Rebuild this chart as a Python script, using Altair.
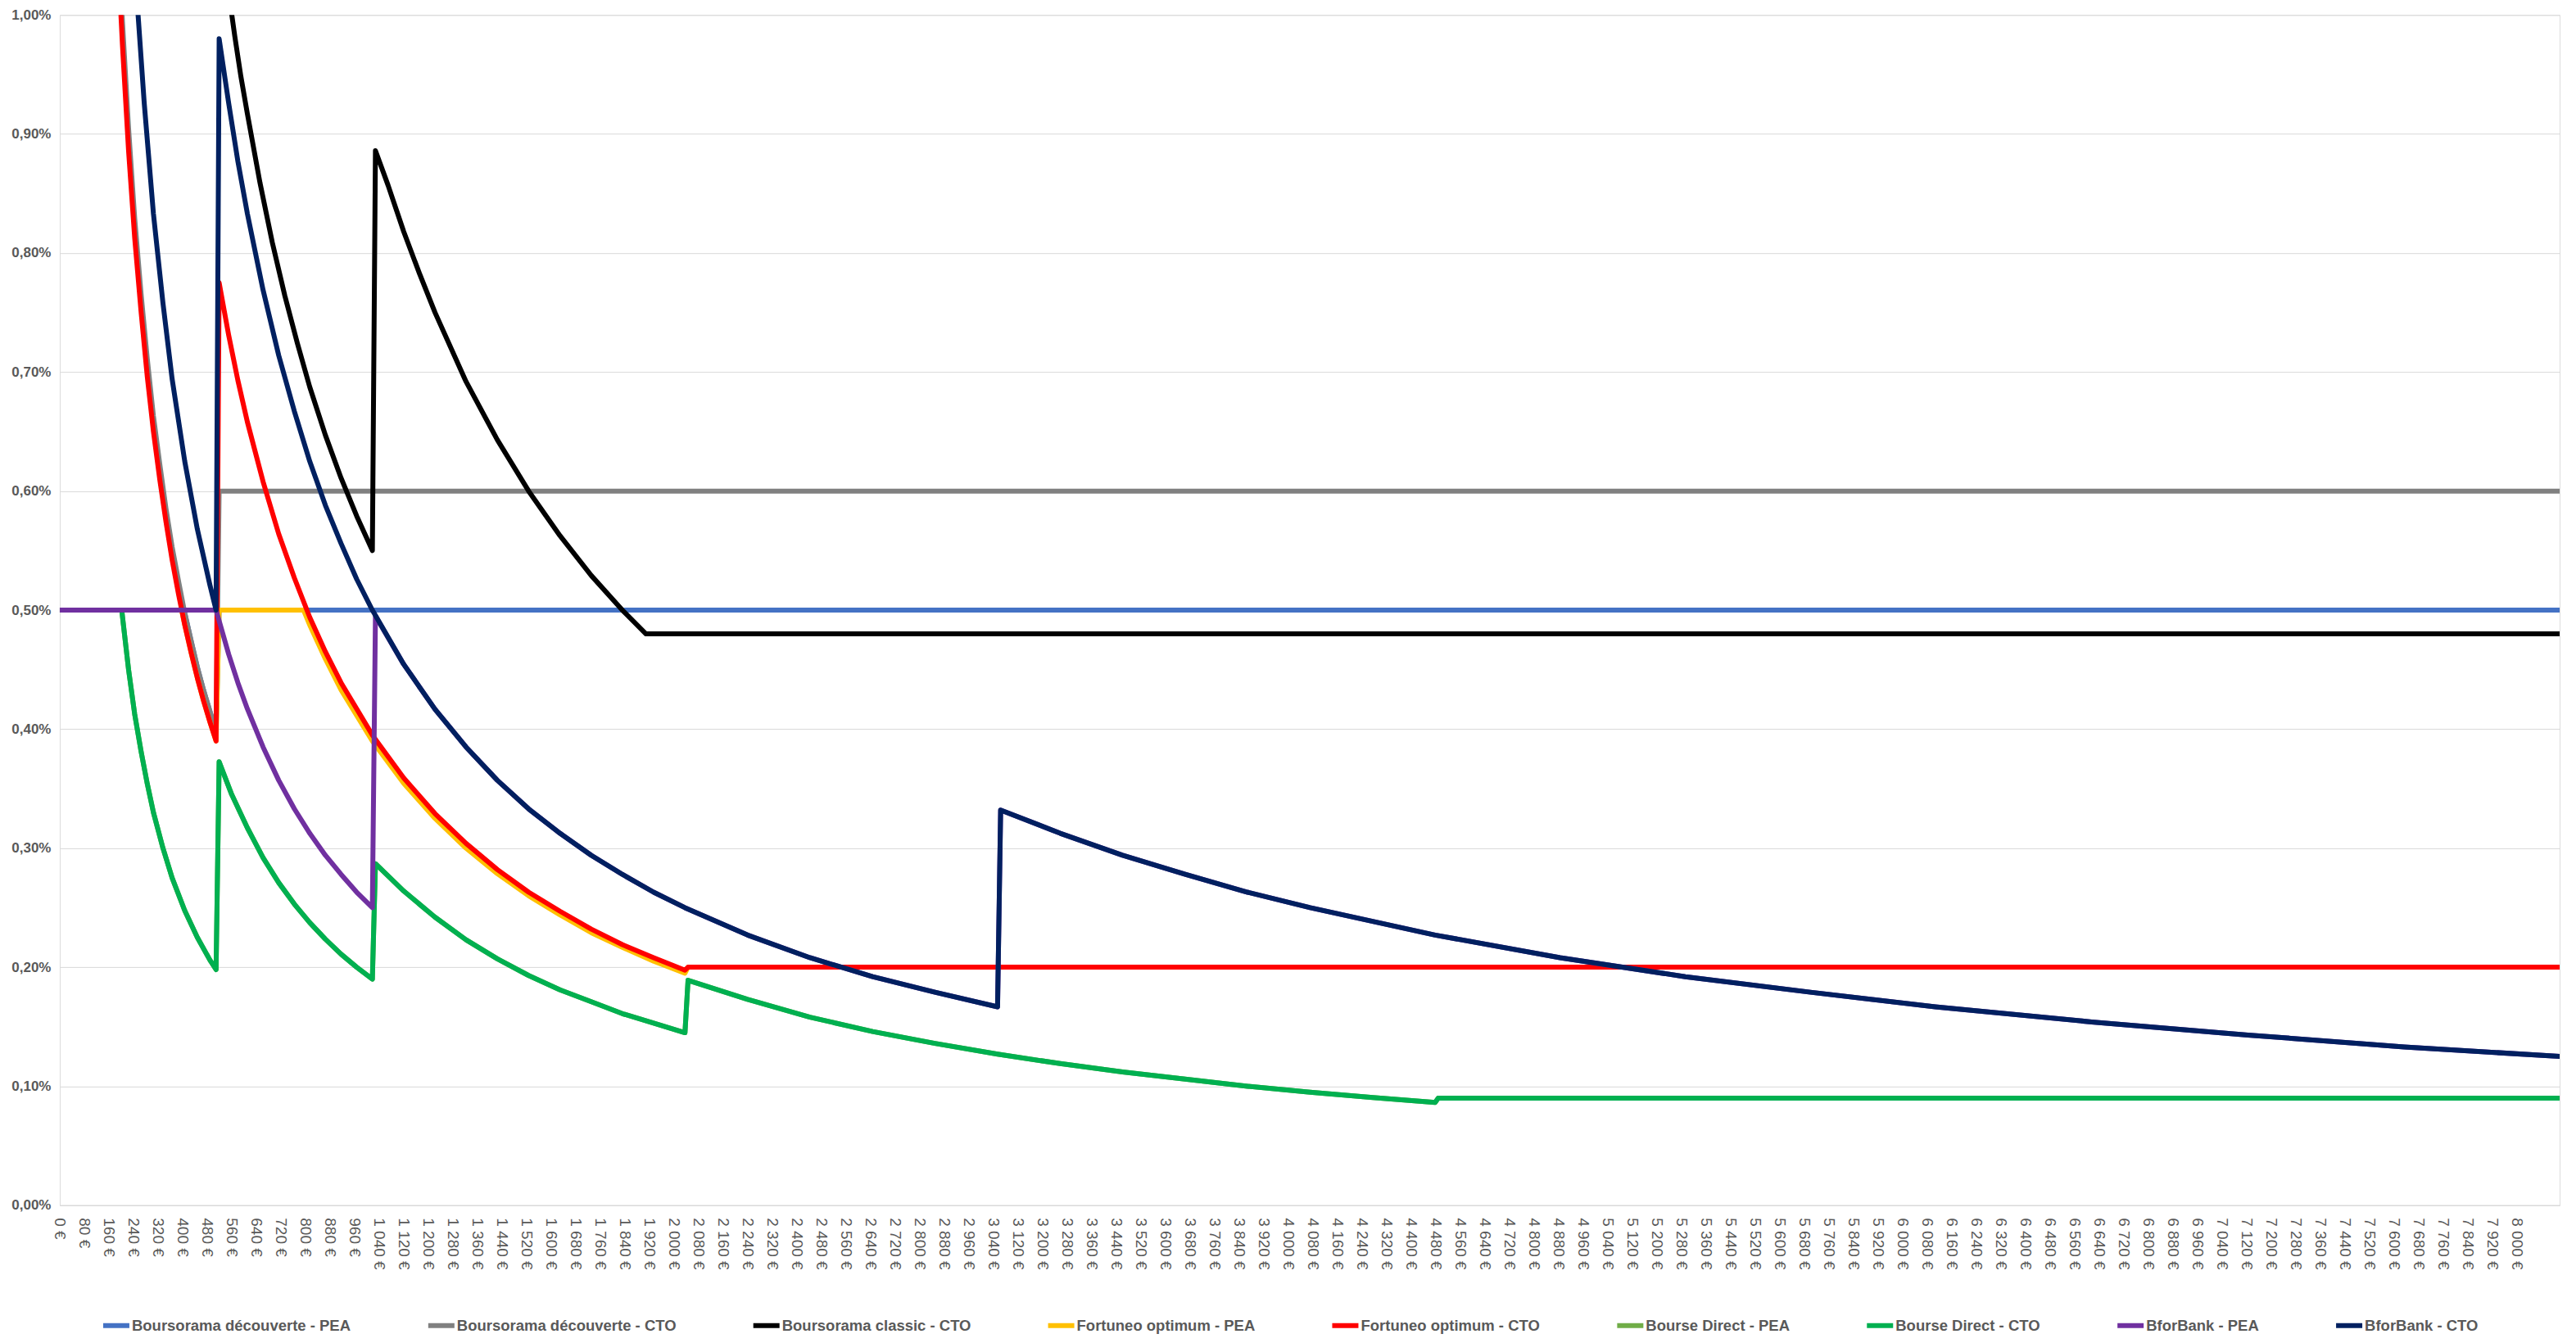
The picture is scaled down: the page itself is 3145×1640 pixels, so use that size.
import altair as alt
import pandas as pd

# ---- series names, colours and line widths ----
names = [
    "Boursorama découverte - PEA",
    "Boursorama découverte - CTO",
    "Boursorama classic - CTO",
    "Fortuneo optimum - PEA",
    "Fortuneo optimum - CTO",
    "Bourse Direct - PEA",
    "Bourse Direct - CTO",
    "BforBank - PEA",
    "BforBank - CTO",
]
colors = ["#4472C4", "#808080", "#000000", "#FFC000", "#FF0000",
          "#70AD47", "#00B050", "#7030A0", "#002060"]
widths = [6, 6, 6, 2.5, 6, 2.5, 6, 6, 6]

# ---- values (x = montant de l'ordre en €, y = frais en %) ----
bd_pea_x = [0, 405, 428, 448, 468, 489, 509, 519, 8141]
bd_pea_y = [0.5, 0.5, 0.474, 0.452, 0.433, 0.415, 0.398, 0.5, 0.5]

bd_cto_x = [102, 153, 183, 204, 224, 244, 265, 285, 305, 326,
            346, 366, 387, 407, 428, 448, 468, 489, 509, 519, 8141]
bd_cto_y = [1.99, 1.327, 1.106, 0.995, 0.905, 0.829, 0.765, 0.711, 0.663, 0.622,
            0.585, 0.553, 0.524, 0.4975, 0.474, 0.452, 0.433, 0.415, 0.398, 0.60, 0.60]

bc_cto_x = [407, 509, 529, 550, 570, 590, 611, 652, 692, 733,
            774, 814, 865, 916, 967, 1018, 1028, 1069, 1120, 1171,
            1222, 1323, 1425, 1527, 1629, 1731, 1832, 1909, 8141]
bc_cto_y = [1.375, 1.1, 1.058, 1.019, 0.982, 0.948, 0.917, 0.859, 0.809, 0.764,
            0.724, 0.6875, 0.647, 0.611, 0.579, 0.55, 0.886, 0.857, 0.818, 0.783,
            0.75, 0.692, 0.643, 0.60, 0.5625, 0.529, 0.50, 0.48, 0.48]

fo_pea_x = [0, 397, 407, 428, 448, 468, 489, 509, 519, 794,
            814, 865, 916, 1018, 1120, 1222, 1323, 1425, 1527, 1629,
            1731, 1832, 1934, 2036, 2046, 8141]
fo_pea_y = [0.5, 0.5, 0.4875, 0.464, 0.443, 0.424, 0.406, 0.39, 0.5, 0.5,
            0.4875, 0.459, 0.433, 0.39, 0.3545, 0.325, 0.30, 0.2786, 0.26, 0.244,
            0.229, 0.2167, 0.205, 0.195, 0.20, 0.20]

fo_cto_x = [102, 153, 183, 204, 224, 244, 265, 285, 305, 326,
            346, 366, 387, 407, 428, 448, 468, 489, 509, 519,
            550, 580, 611, 662, 713, 764, 814, 865, 916, 1018,
            1120, 1222, 1323, 1425, 1527, 1629, 1731, 1832, 1934, 2036,
            2046, 8141]
fo_cto_y = [1.95, 1.3, 1.083, 0.975, 0.886, 0.8125, 0.75, 0.696, 0.65, 0.609,
            0.574, 0.542, 0.513, 0.4875, 0.464, 0.443, 0.424, 0.406, 0.39, 0.775,
            0.731, 0.693, 0.658, 0.608, 0.564, 0.527, 0.494, 0.465, 0.439, 0.395,
            0.359, 0.329, 0.304, 0.282, 0.263, 0.247, 0.232, 0.219, 0.208, 0.1975,
            0.20, 0.20]

bdir_x = [0, 202, 204, 224, 244, 265, 285, 305, 336, 366,
          407, 448, 489, 509, 519, 560, 611, 662, 713, 764,
          814, 865, 916, 967, 1018, 1028, 1120, 1222, 1323, 1425,
          1527, 1629, 1731, 1832, 1934, 2036, 2046, 2240, 2443, 2647,
          2850, 3054, 3258, 3461, 3665, 3868, 4072, 4276, 4479, 4489,
          8141]
bdir_pea_y = [0.5, 0.5, 0.495, 0.45, 0.4125, 0.381, 0.354, 0.33, 0.30, 0.275,
              0.2475, 0.225, 0.206, 0.198, 0.3725, 0.345, 0.317, 0.292, 0.271, 0.253,
              0.2375, 0.2235, 0.211, 0.20, 0.19, 0.287, 0.264, 0.242, 0.223, 0.207,
              0.193, 0.181, 0.171, 0.161, 0.153, 0.145, 0.189, 0.173, 0.158, 0.146,
              0.136, 0.127, 0.119, 0.112, 0.106, 0.10, 0.095, 0.0905, 0.0864, 0.09,
              0.09]
bdir_cto_y = [0.5, 0.5, 0.495, 0.45, 0.4125, 0.381, 0.354, 0.33, 0.30, 0.275,
              0.2475, 0.225, 0.206, 0.198, 0.3725, 0.345, 0.317, 0.292, 0.271, 0.253,
              0.2375, 0.2235, 0.211, 0.20, 0.19, 0.287, 0.264, 0.242, 0.223, 0.207,
              0.193, 0.181, 0.171, 0.161, 0.153, 0.145, 0.189, 0.173, 0.158, 0.146,
              0.136, 0.127, 0.119, 0.112, 0.106, 0.10, 0.095, 0.0905, 0.0864, 0.09,
              0.09]

bf_pea_x = [0, 509, 550, 580, 611, 662, 713, 764, 814, 865,
            916, 967, 1018, 1028, 1120, 1222, 1323, 1425, 1527, 1629,
            1731, 1832, 1934, 2036, 2240, 2443, 2647, 2850, 3054, 3064,
            3258, 3461, 3665, 3868, 4072, 4479, 4886, 5294, 5701, 6108,
            6617, 7126, 7635, 8141]
bf_pea_y = [0.5, 0.5, 0.463, 0.439, 0.417, 0.385, 0.357, 0.333, 0.3125, 0.294,
            0.278, 0.263, 0.25, 0.495, 0.4545, 0.4167, 0.385, 0.357, 0.333, 0.3125,
            0.294, 0.278, 0.263, 0.25, 0.227, 0.208, 0.192, 0.179, 0.1667, 0.332,
            0.3125, 0.294, 0.278, 0.263, 0.25, 0.227, 0.208, 0.192, 0.179, 0.1667,
            0.154, 0.143, 0.133, 0.125]

bf_cto_x = [204, 234, 255, 275, 305, 336, 366, 407, 448, 489,
            509, 519, 550, 580, 611, 662, 713, 764, 814, 865,
            916, 967, 1018, 1120, 1222, 1323, 1425, 1527, 1629, 1731,
            1832, 1934, 2036, 2240, 2443, 2647, 2850, 3054, 3064, 3258,
            3461, 3665, 3868, 4072, 4479, 4886, 5294, 5701, 6108, 6617,
            7126, 7635, 8141]
bf_cto_y = [1.25, 1.087, 1.0, 0.926, 0.833, 0.758, 0.694, 0.625, 0.568, 0.521,
            0.50, 0.98, 0.926, 0.877, 0.833, 0.769, 0.714, 0.667, 0.625, 0.588,
            0.556, 0.526, 0.50, 0.4545, 0.4167, 0.385, 0.357, 0.333, 0.3125, 0.294,
            0.278, 0.263, 0.25, 0.227, 0.208, 0.192, 0.179, 0.1667, 0.332, 0.3125,
            0.294, 0.278, 0.263, 0.25, 0.227, 0.208, 0.192, 0.179, 0.1667, 0.154,
            0.143, 0.133, 0.125]

x_tick_values = list(range(0, 8001, 80))
y_tick_values = [0.0, 0.1, 0.2, 0.3, 0.4, 0.5, 0.6, 0.7, 0.8, 0.9, 1.0]

series_xy = [
    (bd_pea_x, bd_pea_y), (bd_cto_x, bd_cto_y), (bc_cto_x, bc_cto_y),
    (fo_pea_x, fo_pea_y), (fo_cto_x, fo_cto_y), (bdir_x, bdir_pea_y),
    (bdir_x, bdir_cto_y), (bf_pea_x, bf_pea_y), (bf_cto_x, bf_cto_y),
]

rows = []
for name, (xs, ys) in zip(names, series_xy):
    assert len(xs) == len(ys), name
    for i, (xv, yv) in enumerate(zip(xs, ys)):
        rows.append({"series": name, "montant": xv, "frais": yv, "i": i})
df = pd.DataFrame(rows)

FONT = "Liberation Sans, Arial, sans-serif"
TXT = "#595959"

legend = alt.Legend(
    orient="none", legendX=50, legendY=1582, direction="horizontal",
    columns=9, columnPadding=82, title=None, padding=0,
    labelFont=FONT, labelFontSize=18.5, labelFontWeight="bold", labelColor=TXT,
    labelLimit=0, labelOffset=0, symbolType="stroke", symbolSize=1024,
)

x_enc = alt.X(
    "montant:Q",
    scale=alt.Scale(domain=[0, 8141], nice=False, zero=False),
    axis=alt.Axis(
        values=x_tick_values, title=None, grid=False, ticks=False,
        labelAngle=90, labelAlign="left", labelBaseline="middle",
        labelPadding=15, labelOverlap=False, labelBound=False, labelFlush=False,
        labelFont=FONT, labelFontSize=19, labelColor=TXT,
        labelExpr="replace(format(datum.value, ','), ',', ' ') + ' €'",
        domainColor="#D9D9D9", domainWidth=1,
    ),
)
y_enc = alt.Y(
    "frais:Q",
    scale=alt.Scale(domain=[0, 1], nice=False),
    axis=alt.Axis(
        values=y_tick_values, title=None, grid=True, gridColor="#D9D9D9",
        gridWidth=1, ticks=False, domain=False, labelPadding=11,
        labelFont=FONT, labelFontSize=17, labelFontWeight="bold", labelColor=TXT,
        labelExpr="replace(format(datum.value, '.2f'), '.', ',') + '%'",
    ),
)

layers = []
for name in names:
    layers.append(
        alt.Chart(df)
        .transform_filter(alt.datum.series == name)
        .mark_line(clip=True, strokeCap="round", strokeJoin="round")
        .encode(
            x=x_enc,
            y=y_enc,
            order="i:Q",
            color=alt.Color("series:N", scale=alt.Scale(domain=names, range=colors), legend=legend),
            strokeWidth=alt.StrokeWidth("series:N", scale=alt.Scale(domain=names, range=widths), legend=legend),
        )
    )

chart = (
    alt.layer(*layers)
    .properties(width=3053, height=1454, autosize=alt.AutoSizeParams(type="none"),
                padding={"left": 65, "top": 10, "right": 12, "bottom": 160})
    .configure_view(stroke=None)
    .configure(background="white")
)

chart.save("out.html", embed_options={"renderer": "svg", "actions": False})
